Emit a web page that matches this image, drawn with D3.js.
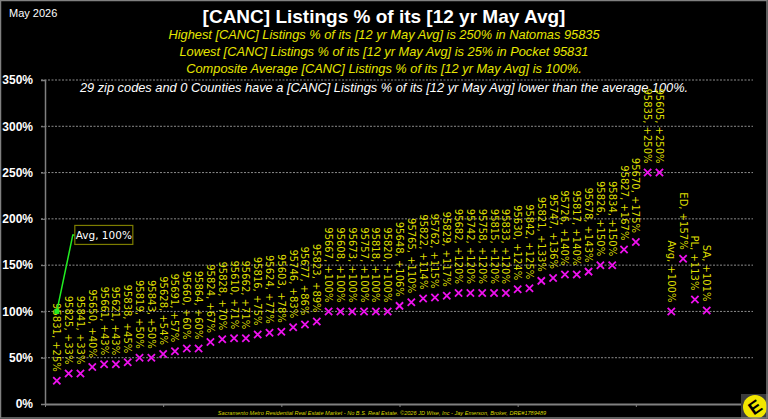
<!DOCTYPE html>
<html>
<head>
<meta charset="utf-8">
<script src="https://cdn.jsdelivr.net/npm/d3@7"></script>
<style>
  body { margin: 0; background: #000; }
  svg { display: block; }
</style>
</head>
<body>
<div id="chart"></div>
<script>
// zip codes / areas, sorted by value (left to right)
const zips = ["95831","95825","95841","95650","95661","95621","95838","95819","95843","95628",
  "95691","95660","95864","95824","95828","95610","95662","95816","95624","95603",
  "95746","95677","95823","95667","95608","95673","95757","95818","95820","95648",
  "95765","95822","95762","95829","95682","95742","95758","95815","95833","95630",
  "95842","95821","95747","95726","95817","95678","95826","95834","95827","95670",
  "95835","95605","Avg","ED","PL","SA"];
const values = [25,33,33,40,43,43,45,50,50,54,
  57,60,60,67,70,71,71,75,77,78,
  83,86,89,100,100,100,100,100,100,106,
  110,114,115,117,120,120,120,120,120,124,
  125,133,136,140,140,143,150,150,167,175,
  250,250,100,157,113,101];
const avgValue = 100;
const yTicks = [0,50,100,150,200,250,300,350];
const xTicks = [0,10,20,30,40,50,60];

const titleText = "[CANC] Listings % of its [12 yr May Avg]";
const subLines = [
  "Highest [CANC] Listings % of its [12 yr May Avg] is 250% in Natomas 95835",
  "Lowest [CANC] Listings % of its [12 yr May Avg] is 25% in Pocket 95831",
  "Composite Average [CANC] Listings % of its [12 yr May Avg] is 100%."
];
const noteText = "29 zip codes and 0 Counties have a [CANC] Listings % of its [12 yr May Avg] lower than the average 100%.";
const footer = "Sacramento Metro Residential Real Estate Market - No B.S. Real Estate. \u00a92026 JD Wise, Inc - Jay Emerson, Broker, DRE#1789489";

const W = 768, H = 419;
const margin = {top: 80, right: 9, bottom: 15, left: 45};

const svg = d3.select("#chart").append("svg")
    .attr("width", W)
    .attr("height", H);

svg.append("rect").attr("width", W).attr("height", H).attr("fill", "#000");

const x = d3.scaleLinear().domain([0, 60]).range([margin.left, W - margin.right - 5]);
const y = d3.scaleLinear().domain([0, 350]).range([H - margin.bottom, margin.top]);

// gridlines
svg.append("g")
  .selectAll("line")
  .data(yTicks.filter(d => d > 0))
  .join("line")
    .attr("x1", margin.left - 4)
    .attr("x2", x(60) - 1)
    .attr("y1", d => y(d))
    .attr("y2", d => y(d))
    .attr("stroke", "#8c8c8c")
    .attr("stroke-dasharray", "2,1.5");

// y axis
const yAxis = d3.axisLeft(y).tickValues(yTicks).tickFormat(d => d + "%").tickSize(4).tickPadding(8);
svg.append("g")
    .attr("transform", `translate(${margin.left},0)`)
    .call(yAxis)
    .call(g => g.select(".domain").attr("stroke", "#808080").attr("stroke-width", 1.5))
    .call(g => g.selectAll(".tick line").attr("stroke", "#808080"))
    .call(g => g.selectAll("text")
        .attr("fill", "#fff")
        .attr("font-family", "Liberation Sans, Arial, sans-serif")
        .attr("font-weight", "bold")
        .attr("font-size", 12));

// x axis
const xAxis = d3.axisBottom(x).tickValues(xTicks).tickFormat("").tickSizeInner(3).tickSizeOuter(0);
svg.append("g")
    .attr("transform", `translate(0,${y(0)})`)
    .call(xAxis)
    .call(g => g.select(".domain").attr("stroke", "#808080").attr("stroke-width", 2))
    .call(g => g.selectAll(".tick line").attr("stroke", "#808080"));

// titles
svg.append("text")
    .attr("x", 9).attr("y", 17)
    .attr("fill", "#fff")
    .attr("font-family", "Liberation Sans, Arial, sans-serif")
    .attr("font-size", 11)
    .text("May 2026");

svg.append("text")
    .attr("x", W / 2).attr("y", 23)
    .attr("text-anchor", "middle")
    .attr("fill", "#fff")
    .attr("font-family", "Liberation Sans, Arial, sans-serif")
    .attr("font-weight", "bold")
    .attr("font-size", 19)
    .text(titleText);

svg.append("g")
  .selectAll("text")
  .data(subLines)
  .join("text")
    .attr("x", W / 2)
    .attr("y", (d, i) => 39 + i * 17)
    .attr("text-anchor", "middle")
    .attr("fill", "#e6e600")
    .attr("font-family", "Liberation Sans, Arial, sans-serif")
    .attr("font-style", "italic")
    .attr("font-size", 12.8)
    .text(d => d);

svg.append("text")
    .attr("x", W / 2).attr("y", 92)
    .attr("text-anchor", "middle")
    .attr("fill", "#fff")
    .attr("font-family", "Liberation Sans, Arial, sans-serif")
    .attr("font-style", "italic")
    .attr("font-size", 12.8)
    .text(noteText);

// data labels
svg.append("g")
    .attr("font-family", "DejaVu Sans, sans-serif")
    .attr("font-size", 10)
    .attr("fill", "#dede00")
  .selectAll("text")
  .data(values)
  .join("text")
    .attr("transform", (d, i) => `translate(${x(i + 1)},${y(d) - 9}) rotate(90)`)
    .attr("text-anchor", "end")
    .attr("dy", "0.35em")
    .text((d, i) => `${zips[i]}, +${d}%`);

// markers
svg.append("g")
  .selectAll("path")
  .data(values)
  .join("path")
    .attr("transform", (d, i) => `translate(${x(i + 1)},${y(d)})`)
    .attr("d", d3.symbol(d3.symbolX, 36))
    .attr("fill", "none")
    .attr("stroke", "#ee11ee")
    .attr("stroke-width", 1.8);

// Avg callout
const ax = x(1), ay = y(avgValue);
const bx = ax + 18, by = ay - 86;
svg.append("path")
    .attr("d", `M${ax},${ay}L${bx - 2},${by + 9.5}L${bx},${by + 9.5}`)
    .attr("fill", "none")
    .attr("stroke", "#22ee22")
    .attr("stroke-width", 1.5);
svg.append("rect")
    .attr("x", ax - 2.5).attr("y", ay - 2.5)
    .attr("width", 5).attr("height", 5)
    .attr("fill", "#22ee22");
svg.append("rect")
    .attr("x", bx).attr("y", by)
    .attr("width", 58).attr("height", 19)
    .attr("fill", "#000")
    .attr("stroke", "#7d7d00")
    .attr("stroke-width", 1.2);
svg.append("text")
    .attr("x", bx + 29).attr("y", by + 13.5)
    .attr("text-anchor", "middle")
    .attr("fill", "#fff")
    .attr("font-family", "DejaVu Sans, sans-serif")
    .attr("font-size", 10.5)
    .text("Avg, 100%");

// footer
svg.append("text")
    .attr("x", 382).attr("y", 415)
    .attr("text-anchor", "middle")
    .attr("fill", "#d6d600")
    .attr("font-family", "Liberation Sans, Arial, sans-serif")
    .attr("font-style", "italic")
    .attr("font-size", 5.6)
    .text(footer);

// logo
const logo = svg.append("g");
logo.append("rect")
    .attr("x", 741).attr("y", 394).attr("width", 27).attr("height", 25)
    .attr("fill", "#3c3c3c");
logo.append("circle")
    .attr("cx", 755).attr("cy", 407).attr("r", 12)
    .attr("fill", "#f2e600");
logo.append("text")
    .attr("transform", "translate(755,407) rotate(-35)")
    .attr("text-anchor", "middle")
    .attr("dy", "0.36em")
    .attr("fill", "#000")
    .attr("font-family", "Liberation Sans, Arial, sans-serif")
    .attr("font-weight", "bold")
    .attr("font-size", 18)
    .text("E");

// border
svg.append("rect")
    .attr("x", 0.5).attr("y", 0.5).attr("width", W - 1.5).attr("height", H - 1.5)
    .attr("fill", "none")
    .attr("stroke", "#808080")
    .attr("stroke-width", 1.5);
</script>
</body>
</html>
